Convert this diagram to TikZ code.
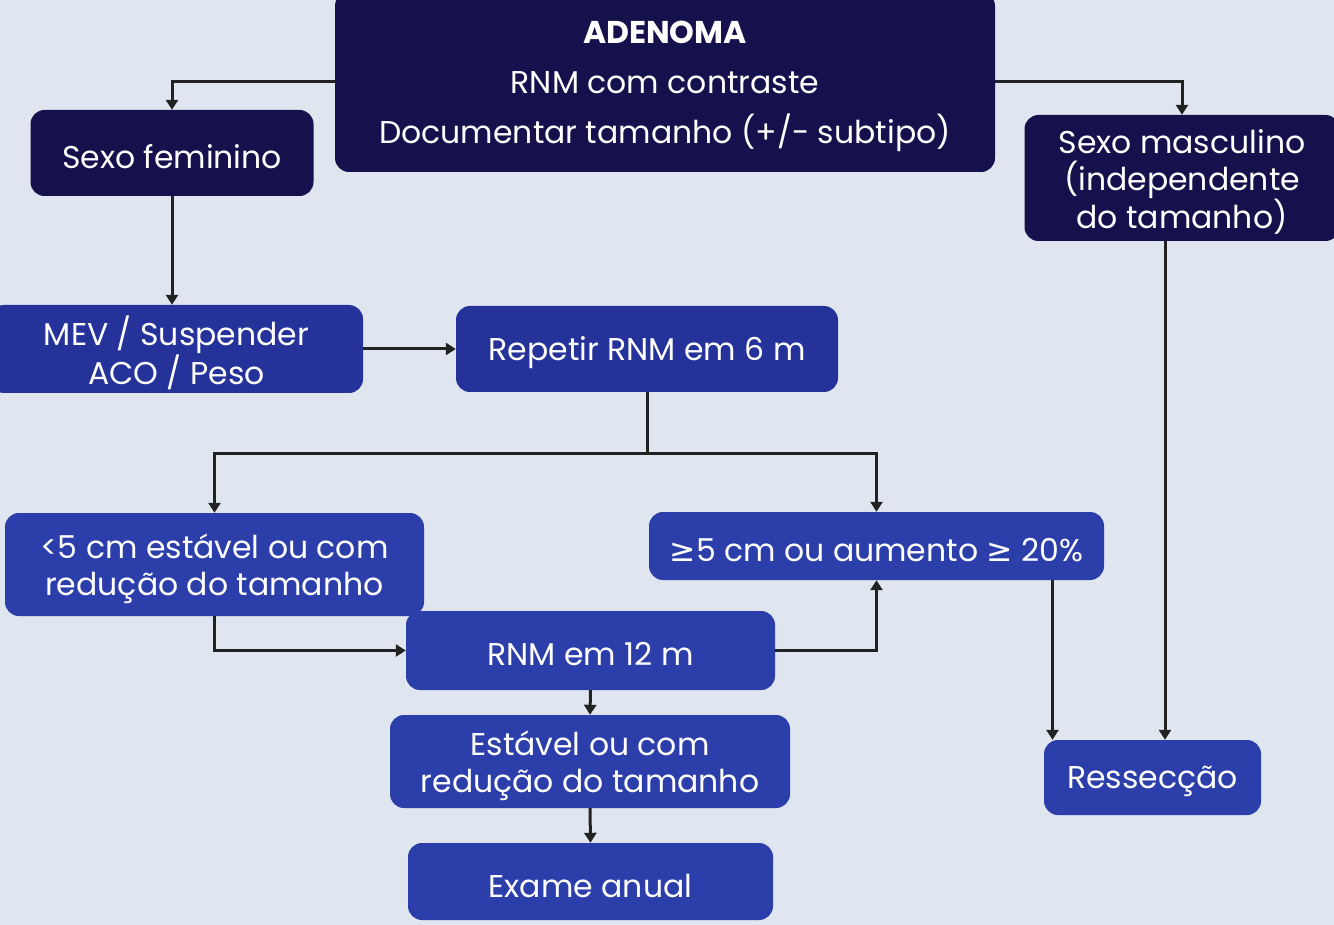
\documentclass[tikz,border=0pt]{standalone}
\usepackage{fontspec}
\setmainfont{Poppins}
\newfontfamily\symf{DejaVu Sans}
\usetikzlibrary{arrows.meta}
\definecolor{bg}{HTML}{DFE6EF}
\definecolor{navy}{HTML}{16114C}
\definecolor{midblue}{HTML}{24329A}
\definecolor{royal}{HTML}{2B3EAA}
\definecolor{linec}{HTML}{222222}
\newcommand\dn[1]{\raisebox{-4pt}[\height][\depth]{#1}}
\begin{document}
\begin{tikzpicture}[x=1pt,y=-1pt,
  box/.style={rectangle, rounded corners=14pt, text=white, align=center, inner sep=0pt,
    font=\fontsize{31.5}{37}\selectfont},
  conn/.style={line width=3pt, draw=linec, -{Triangle[length=10pt,width=12pt]}},
  plain/.style={line width=3pt, draw=linec}]
\fill[bg] (0,0) rectangle (1334,925);
\useasboundingbox (0,0) rectangle (1334,925);

\node[box, fill=navy, minimum width=660pt, minimum height=180pt, font=\fontsize{31.5}{50}\selectfont] (top) at (665,82)
  {\dn{\textbf{ADENOMA}}\\\dn{RNM com contraste}\\\dn{Documentar tamanho (+/- subtipo)}};
\node[box, fill=navy, minimum width=283pt, minimum height=86pt] (fem) at (172,153) {\dn{Sexo feminino}};
\node[box, fill=navy, minimum width=315pt, minimum height=126pt] (masc) at (1182,178)
  {\dn{Sexo masculino}\\\dn{(independente}\\\dn{do tamanho)}};
\node[box, fill=midblue, minimum width=373pt, minimum height=88pt] (mev) at (176.5,349)
  {\dn{MEV / Suspender}\\\dn{ACO / Peso}};
\node[box, fill=midblue, minimum width=382pt, minimum height=86pt] (rep) at (647,349) {\dn{Repetir RNM em 6 m}};
\node[box, fill=royal, minimum width=419pt, minimum height=103pt] (lt5) at (214.5,564.5)
  {\dn{<5 cm estável ou com}\\\dn{redução do tamanho}};
\node[box, fill=royal, minimum width=455pt, minimum height=68pt] (ge5) at (876.5,546)
  {\dn{{\symf ≥}5 cm ou aumento {\symf ≥} 20\%}};
\node[box, fill=royal, minimum width=369pt, minimum height=79pt] (rnm) at (590.5,650.5) {\dn{RNM em 12 m}};
\node[box, fill=royal, minimum width=400pt, minimum height=93pt] (est) at (590,761.5)
  {\dn{Estável ou com}\\\dn{redução do tamanho}};
\node[box, fill=royal, minimum width=217pt, minimum height=75pt] (res) at (1152.5,777.5) {\dn{Ressecção}};
\node[box, fill=royal, minimum width=365pt, minimum height=77pt] (exa) at (590.5,881.5) {\dn{Exame anual}};

\draw[conn] (top.west) -| (fem.north);
\draw[conn] (top.east) -| (masc.north);
\draw[conn] (fem.south) -- (fem.south |- mev.north);
\draw[conn] (mev.east) -- (rep.west);
\draw[plain] (rep.south) -- ++(0,61) coordinate (split);
\draw[conn] (split) -| (lt5.north);
\draw[conn] (split) -| (ge5.north);
\draw[conn] (lt5.south) |- (rnm.west);
\draw[conn] (rnm.east) -| (ge5.south);
\draw[conn] (rnm.south) -- (est.north);
\draw[conn] (est.south) -- (exa.north);
\draw[conn] ([xshift=176pt]ge5.south) -- ([xshift=176pt]ge5.south |- res.north);
\draw[conn] ([xshift=-17pt]masc.south) -- ([xshift=-17pt]masc.south |- res.north);
\end{tikzpicture}
\end{document}
